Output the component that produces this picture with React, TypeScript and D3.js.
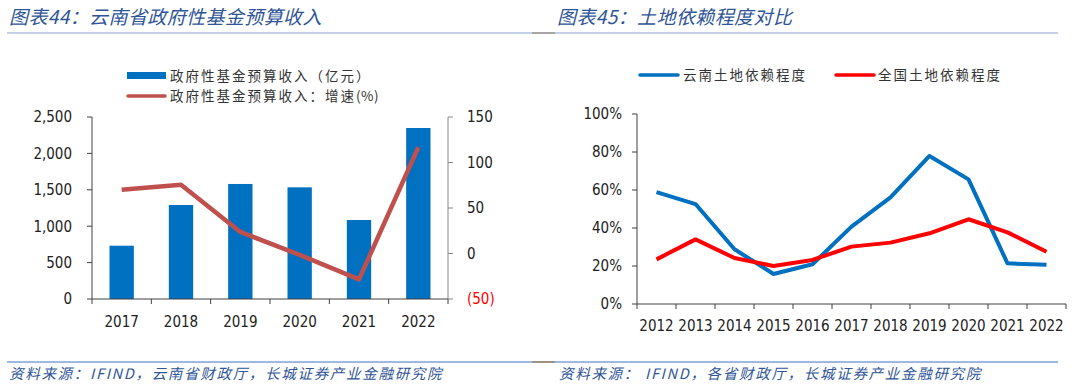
import { FC } from 'react'
import * as d3 from 'd3'

// chart 44: 云南省政府性基金预算收入
const fundYears = ['2017', '2018', '2019', '2020', '2021', '2022']
const fundRevenue = [732, 1291, 1580, 1534, 1085, 2349]
const fundGrowth = [70, 75.5, 23.7, -1.5, -28.5, 116.8]
const leftTicks = [0, 500, 1000, 1500, 2000, 2500]
const rightTicks = [-50, 0, 50, 100, 150]

// chart 45: 土地依赖程度对比
const landYears = ['2012', '2013', '2014', '2015', '2016', '2017', '2018', '2019', '2020', '2021', '2022']
const yunnanDep = [0.589, 0.526, 0.288, 0.158, 0.209, 0.407, 0.561, 0.779, 0.656, 0.214, 0.207]
const nationDep = [0.235, 0.34, 0.242, 0.2, 0.232, 0.302, 0.323, 0.372, 0.446, 0.377, 0.275]
const pctTicks = [0, 0.2, 0.4, 0.6, 0.8, 1]

const CJK = '"Noto Sans CJK SC", "DejaVu Sans", sans-serif'
const NUM = '"DejaVu Sans Condensed", "DejaVu Sans", sans-serif'
const TITLE_BLUE = '#2F5597'
const BAR_BLUE = '#0070C0'
const AXIS = '#404040'
const NUM_SIZE = 15

const FundChart: FC = () => {
  const x = d3.scaleBand().domain(fundYears).range([92, 448])
  const yL = d3.scaleLinear().domain([0, 2500]).range([299, 117])
  const yR = d3.scaleLinear().domain([-50, 150]).range([299, 117])
  const barW = x.bandwidth() * 0.41
  const line = d3.line<number>()
    .x((_, i) => (x(fundYears[i]) || 0) + x.bandwidth() / 2)
    .y(d => yR(d))
  const fmt = d3.format(',')
  const boundaries = d3.range(fundYears.length + 1).map(i => 92 + i * x.step())

  return (
    <g>
      {fundYears.map((yr, i) => (
        <rect key={yr}
          x={(x(yr) || 0) + (x.bandwidth() - barW) / 2}
          y={yL(fundRevenue[i])}
          width={barW}
          height={yL(0) - yL(fundRevenue[i])}
          fill={BAR_BLUE} />
      ))}
      <path d={line(fundGrowth) || ''} fill="none" stroke="#C0504D" strokeWidth={4.5} strokeLinejoin="round" />

      {/* left axis */}
      <line x1={92} x2={92} y1={117} y2={299} stroke={AXIS} strokeWidth={1} />
      {leftTicks.map(t => (
        <g key={t}>
          <line x1={87} x2={92} y1={yL(t)} y2={yL(t)} stroke={AXIS} />
          <text x={72} y={yL(t)} dy="0.36em" textAnchor="end" fontSize={NUM_SIZE} fontFamily={NUM} fill="#222">{fmt(t)}</text>
        </g>
      ))}
      {/* right axis */}
      <line x1={448} x2={448} y1={117} y2={299} stroke="#888" strokeWidth={1} />
      {rightTicks.map(t => (
        <g key={t}>
          <line x1={448} x2={453} y1={yR(t)} y2={yR(t)} stroke="#888" />
          <text x={467} y={yR(t)} dy="0.36em" fontSize={NUM_SIZE} fontFamily={NUM} fill={t < 0 ? '#FF0000' : '#222'}>
            {t < 0 ? `(${Math.abs(t)})` : t}
          </text>
        </g>
      ))}
      {/* x axis */}
      <line x1={92} x2={448} y1={299} y2={299} stroke={AXIS} />
      {boundaries.map(b => (
        <line key={b} x1={b} x2={b} y1={299} y2={304} stroke={AXIS} />
      ))}
      {fundYears.map(yr => (
        <text key={yr} x={(x(yr) || 0) + x.bandwidth() / 2} y={327} textAnchor="middle" fontSize={NUM_SIZE} fontFamily={NUM} fill="#222">{yr}</text>
      ))}

      {/* legend */}
      <rect x={127} y={72} width={39} height={7} fill={BAR_BLUE} />
      <text x={170} y={81} fontSize={13.5} fontFamily={CJK} fill="#333" letterSpacing={2}>政府性基金预算收入（亿元）</text>
      <line x1={128} x2={165} y1={96} y2={96} stroke="#C0504D" strokeWidth={3.5} strokeLinecap="round" />
      <text x={170} y={101} fontSize={13.5} fontFamily={CJK} fill="#333" letterSpacing={2}>政府性基金预算收入：增速<tspan letterSpacing={0.5}>(%)</tspan></text>
    </g>
  )
}

const LandChart: FC = () => {
  const x = d3.scaleBand().domain(landYears).range([637, 1066])
  const y = d3.scaleLinear().domain([0, 1]).range([304, 114])
  const cx = (i: number) => (x(landYears[i]) || 0) + x.bandwidth() / 2
  const line = d3.line<number>().x((_, i) => cx(i)).y(d => y(d))
  const fmt = d3.format('.0%')
  const boundaries = d3.range(landYears.length + 1).map(i => 637 + i * x.step())

  return (
    <g>
      <line x1={637} x2={637} y1={114} y2={304} stroke={AXIS} />
      {pctTicks.map(t => (
        <g key={t}>
          <line x1={632} x2={637} y1={y(t)} y2={y(t)} stroke={AXIS} />
          <text x={622} y={y(t)} dy="0.36em" textAnchor="end" fontSize={NUM_SIZE} fontFamily={NUM} fill="#222">{fmt(t)}</text>
        </g>
      ))}
      <line x1={637} x2={1066} y1={304} y2={304} stroke={AXIS} />
      {boundaries.map(b => (
        <line key={b} x1={b} x2={b} y1={304} y2={309} stroke={AXIS} />
      ))}
      {landYears.map((yr, i) => (
        <text key={yr} x={cx(i)} y={331} textAnchor="middle" fontSize={NUM_SIZE} fontFamily={NUM} fill="#222">{yr}</text>
      ))}
      <path d={line(yunnanDep) || ''} fill="none" stroke="#0070C0" strokeWidth={4} strokeLinejoin="round" />
      <path d={line(nationDep) || ''} fill="none" stroke="#FF0000" strokeWidth={4} strokeLinejoin="round" />

      {/* legend */}
      <line x1={640} x2={678} y1={75} y2={75} stroke="#0070C0" strokeWidth={3.5} strokeLinecap="round" />
      <text x={683} y={80} fontSize={13.5} fontFamily={CJK} fill="#333" letterSpacing={2}>云南土地依赖程度</text>
      <line x1={836} x2={874} y1={75} y2={75} stroke="#FF0000" strokeWidth={3.5} strokeLinecap="round" />
      <text x={878} y={80} fontSize={13.5} fontFamily={CJK} fill="#333" letterSpacing={2}>全国土地依赖程度</text>
    </g>
  )
}

const App: FC = () => (
  <svg width={1080} height={388} style={{ position: 'absolute', left: 0, top: 0, background: '#fff' }}>
    <rect width={1080} height={388} fill="#fff" />
    {/* titles */}
    <text x={9} y={24} fontSize={19} fontStyle="italic" fontFamily={CJK} fill={TITLE_BLUE} letterSpacing={0.4}>图表44：云南省政府性基金预算收入</text>
    <text x={557} y={24} fontSize={19} fontStyle="italic" fontFamily={CJK} fill={TITLE_BLUE} letterSpacing={0.4}>图表45：土地依赖程度对比</text>
    <line x1={7} x2={532} y1={33} y2={33} stroke="#8C9FD0" strokeWidth={1.2} />
    <line x1={532} x2={555} y1={33} y2={33} stroke="#6b6b6b" strokeWidth={1.2} />
    <line x1={555} x2={1058} y1={33} y2={33} stroke="#8C9FD0" strokeWidth={1.2} />

    <FundChart />
    <LandChart />

    {/* sources */}
    <line x1={7} x2={532} y1={362} y2={362} stroke="#4472C4" strokeWidth={1.2} />
    <line x1={532} x2={555} y1={362} y2={362} stroke="#5a4a3a" strokeWidth={1.2} />
    <line x1={555} x2={1058} y1={362} y2={362} stroke="#4472C4" strokeWidth={1.2} />
    <text x={9} y={379} fontSize={14.5} fontStyle="italic" fontFamily={CJK} fill={TITLE_BLUE} letterSpacing={1.7}>资料来源：IFIND，云南省财政厅，长城证券产业金融研究院</text>
    <text x={559} y={379} fontSize={14.5} fontStyle="italic" fontFamily={CJK} fill={TITLE_BLUE} letterSpacing={1.7}>资料来源： IFIND，各省财政厅，长城证券产业金融研究院</text>
  </svg>
)

export default App
